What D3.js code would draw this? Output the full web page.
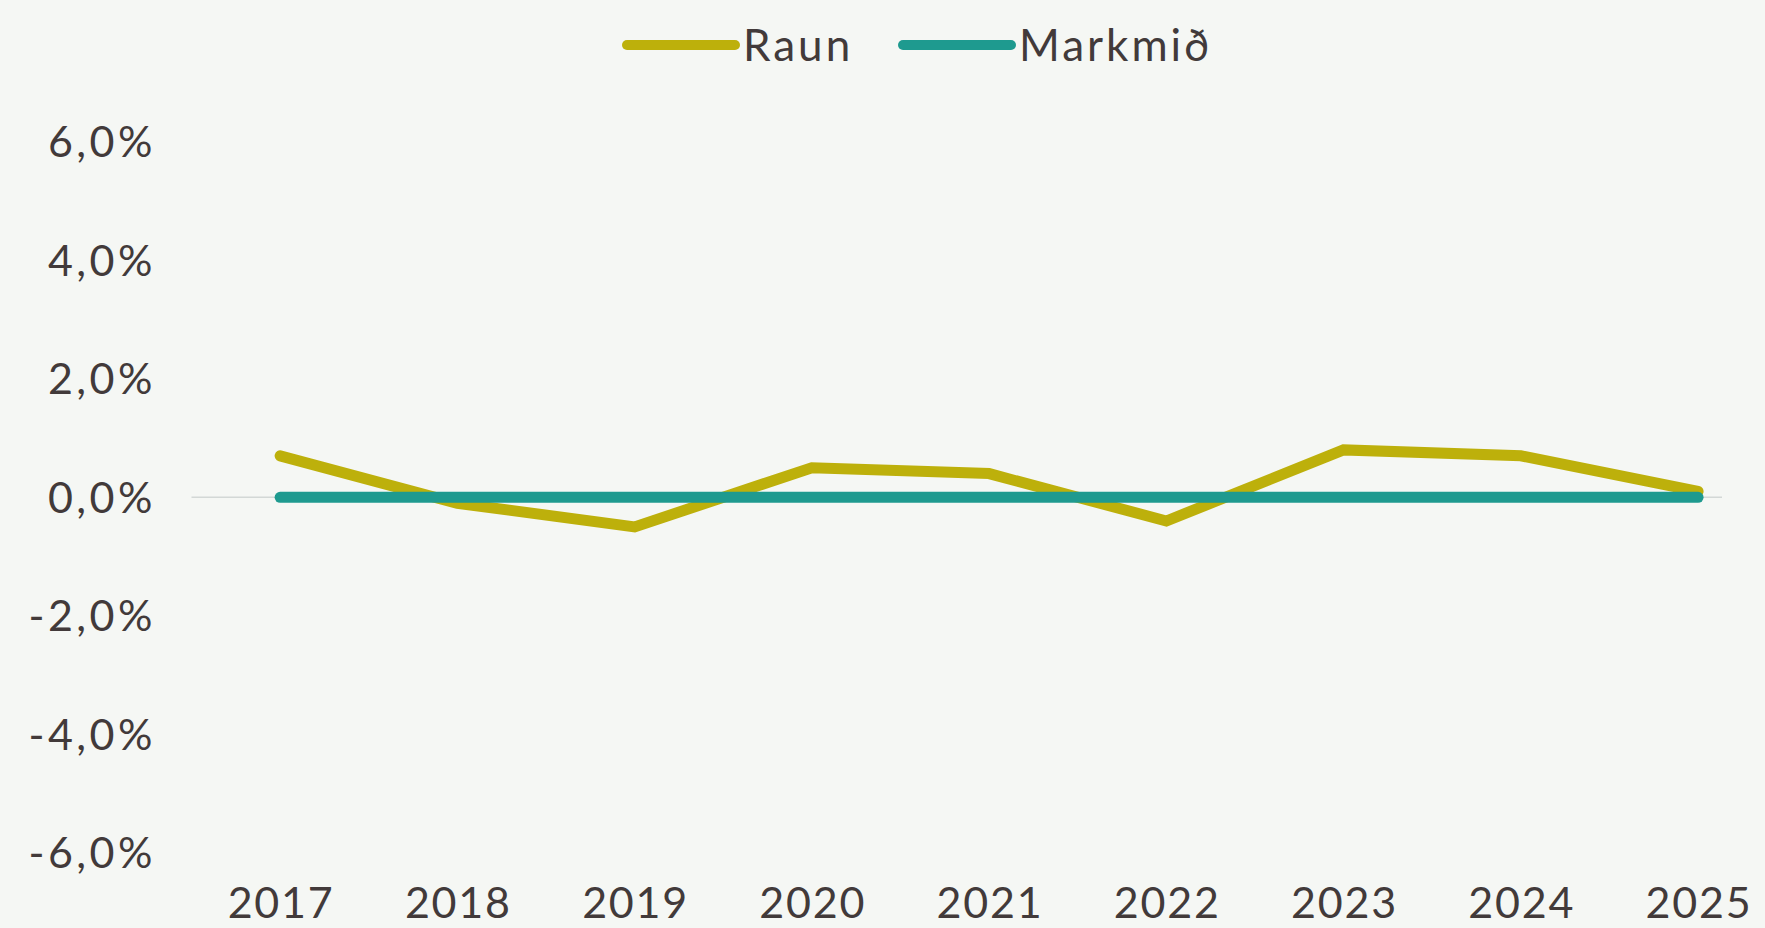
<!DOCTYPE html>
<html>
<head>
<meta charset="utf-8">
<script src="https://cdn.jsdelivr.net/npm/d3@7"></script>
<style>
  html, body { margin: 0; padding: 0; background: #f5f7f4; }
  svg { display: block; }
  text { font-family: Lato, "Open Sans", sans-serif; fill: #423a3a; }
</style>
</head>
<body>
<svg id="chart"></svg>
<script>
const years = ['2017', '2018', '2019', '2020', '2021', '2022', '2023', '2024', '2025']
const raun = [0.7, -0.1, -0.5, 0.5, 0.4, -0.4, 0.8, 0.7, 0.1]
const markmid = [0, 0, 0, 0, 0, 0, 0, 0, 0]
const yTicks = [-6, -4, -2, 0, 2, 4, 6]
const seriesNames = ['Raun', 'Markmið']
const seriesColors = ['#bdb00b', '#1e9a8f']

const width = 1765, height = 928
const svg = d3.select('#chart').attr('width', width).attr('height', height)

svg.append('rect')
  .attr('width', width)
  .attr('height', height)
  .attr('fill', '#f5f7f4')

let x = d3.scalePoint()
  .domain(years)
  .range([191.5, 1786.7])
  .padding(0.5)

let y = d3.scaleLinear()
  .domain([-6, 6])
  .range([852.9, 141.7])

const plotRight = 1722

// y labels
svg.append('g')
  .selectAll('text')
  .data(yTicks)
  .join('text')
  .attr('x', 156)
  .attr('y', d => y(d))
  .attr('dy', '0.36em')
  .attr('text-anchor', 'end')
  .style('font-size', '43px')
  .style('letter-spacing', '3.5px')
  .text(d => d3.format('.1f')(d).replace('.', ',').replace('−', '-') + '%')

// zero line
svg.append('line')
  .attr('x1', x.range()[0])
  .attr('x2', plotRight)
  .attr('y1', y(0))
  .attr('y2', y(0))
  .attr('stroke', '#d3d8d6')
  .attr('stroke-width', 1.5)

// x labels
svg.append('g')
  .selectAll('text')
  .data(years)
  .join('text')
  .attr('x', d => x(d) + 1)
  .attr('y', 918)
  .attr('text-anchor', 'middle')
  .style('font-size', '43px')
  .style('letter-spacing', '1.8px')
  .text(d => d)

let line = d3.line()
  .x((d, i) => x(years[i]))
  .y(d => y(d))

let series = [raun, markmid]
// Raun first, Markmið on top
series.forEach((vals, k) => {
  svg.append('path')
    .datum(vals)
    .attr('d', line)
    .attr('fill', 'none')
    .attr('stroke', seriesColors[k])
    .attr('stroke-width', 11)
    .attr('stroke-linecap', 'round')
    .attr('stroke-linejoin', 'miter')
})

// legend
let legendX = [627, 903]
let leg = svg.append('g')
  .selectAll('g')
  .data(seriesNames)
  .join('g')
  .attr('transform', (d, i) => `translate(${legendX[i]}, 45)`)

leg.append('line')
  .attr('x1', 0)
  .attr('x2', 108)
  .attr('y1', 0)
  .attr('y2', 0)
  .attr('stroke', (d, i) => seriesColors[i])
  .attr('stroke-width', 10)
  .attr('stroke-linecap', 'round')

leg.append('text')
  .attr('x', 116)
  .attr('y', 16)
  .style('font-size', '44px')
  .style('letter-spacing', '3px')
  .text(d => d)
</script>
</body>
</html>
